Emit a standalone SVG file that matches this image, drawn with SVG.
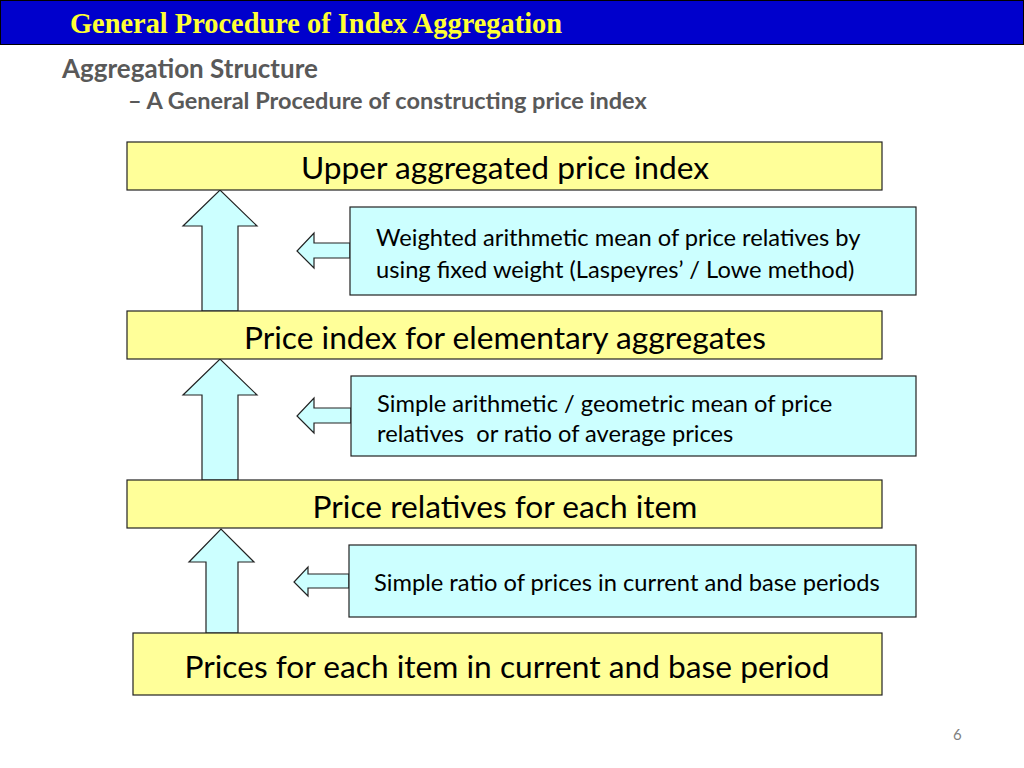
<svg xmlns="http://www.w3.org/2000/svg" width="1024" height="768" viewBox="0 0 1024 768">
<style>
.lvl{fill:#FFFF99;stroke:#222;stroke-width:1.2}
.note{fill:#CCFFFF;stroke:#222;stroke-width:1.2}
.arr{fill:#CCFFFF;stroke:#222;stroke-width:1.2;stroke-linejoin:miter}
.lt{font-family:Lato,"Open Sans","Liberation Sans",sans-serif;font-size:31.7px;fill:#000;text-anchor:middle}
.nt{font-family:Lato,"Open Sans","Liberation Sans",sans-serif;font-size:23.7px;fill:#000}
.sub{font-family:Lato,"Open Sans","Liberation Sans",sans-serif;font-weight:bold;fill:#595959}
</style>
<rect width="1024" height="768" fill="#fff"/>
<g id="header">
<rect x="0.5" y="0.5" width="1023" height="44" fill="#0000CC" stroke="#000" stroke-width="1"/>
<text x="70" y="33" font-family="'Liberation Serif',serif" font-weight="bold" font-size="28.4" fill="#FFFF33">General Procedure of Index Aggregation</text>
</g>
<g id="subtitle">
<text class="sub" x="62" y="78" font-size="26">Aggregation Structure</text>
<text class="sub" x="128" y="109" font-size="23.5">– A General Procedure of constructing price index</text>
</g>
<g id="connectors">
<polygon class="arr" points="202,311 202,226 183,226 220,190 257,226 238,226 238,311"/>
<polygon class="arr" points="202,480 202,395 183,395 220,359 257,395 238,395 238,480"/>
<polygon class="arr" points="206,633 206,562 189,562 221,529 254,562 238,562 238,633"/>
<polygon class="arr" points="350,243 314,243 314,233 297,251 314,268 314,258 350,258"/>
<polygon class="arr" points="351,408 314,408 314,398 297,416 314,433 314,423 351,423"/>
<polygon class="arr" points="349,574 308,574 308,567 294,582 308,596 308,588 349,588"/>
</g>
<g id="upper">
<rect class="lvl" x="127" y="142" width="755" height="48"/>
<text class="lt" x="505" y="179">Upper aggregated price index</text>
</g>
<g id="elementary">
<rect class="lvl" x="127" y="311" width="755" height="48"/>
<text class="lt" x="505" y="349">Price index for elementary aggregates</text>
</g>
<g id="relatives">
<rect class="lvl" x="127" y="480" width="755" height="48"/>
<text class="lt" x="505" y="518">Price relatives for each item</text>
</g>
<g id="prices">
<rect class="lvl" x="133" y="633" width="749" height="62"/>
<text class="lt" x="507" y="678" font-size="32.9">Prices for each item in current and base period</text>
</g>
<g id="noteA">
<rect class="note" x="350" y="207" width="566" height="88"/>
<text class="nt" x="376" y="246">Weighted arithmetic mean of price relatives by</text>
<text class="nt" x="376" y="278">using fixed weight (Laspeyres’ / Lowe method)</text>
</g>
<g id="noteB">
<rect class="note" x="351" y="376" width="565" height="80"/>
<text class="nt" x="377" y="412">Simple arithmetic / geometric mean of price</text>
<text class="nt" x="377" y="442" xml:space="preserve" style="white-space:pre">relatives  or ratio of average prices</text>
</g>
<g id="noteC">
<rect class="note" x="349" y="545" width="567" height="72"/>
<text class="nt" x="374" y="591">Simple ratio of prices in current and base periods</text>
</g>
<text x="953" y="740" font-family="Lato,'Liberation Sans',sans-serif" font-size="15" fill="#808080">6</text>
</svg>
